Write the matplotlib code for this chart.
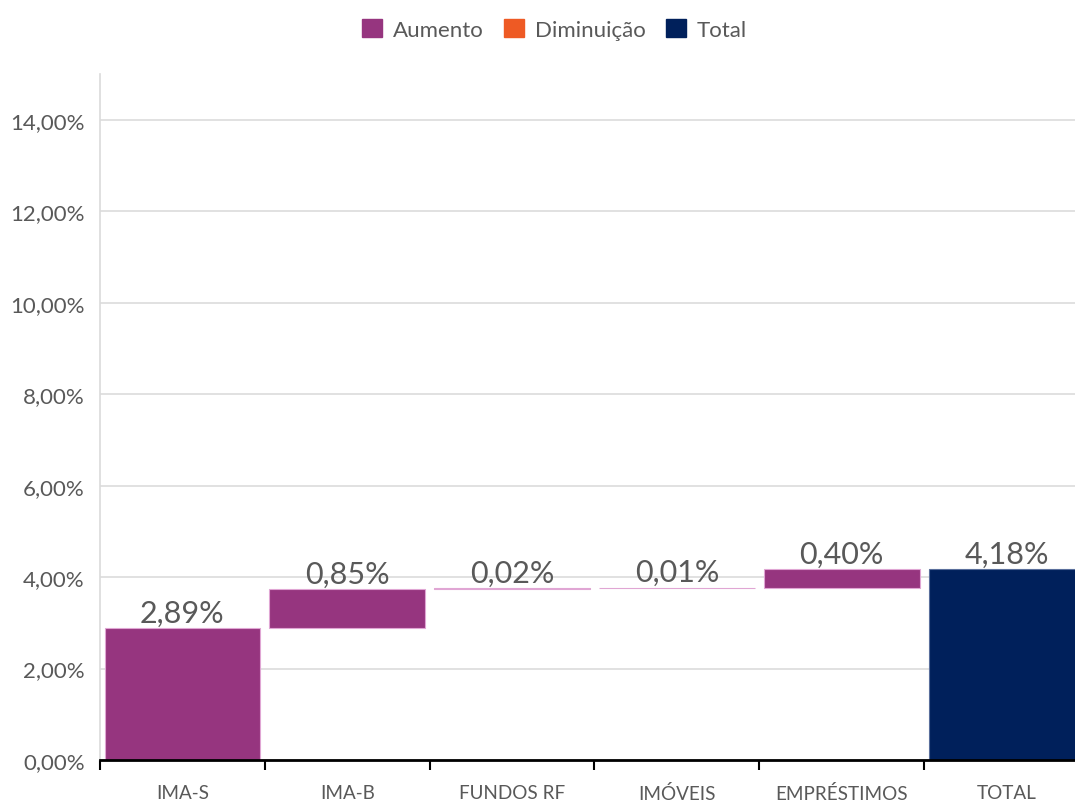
import matplotlib.pyplot as plt
import numpy as np
from matplotlib.patches import Patch
from matplotlib.ticker import FuncFormatter, FixedLocator

plt.rcParams['font.family'] = ['Lato', 'DejaVu Sans']

categories = ['IMA-S', 'IMA-B', 'FUNDOS RF', 'IMÓVEIS', 'EMPRÉSTIMOS', 'TOTAL']
steps = [2.89, 0.85, 0.02, 0.01, 0.40]
total = 4.18
labels = ['2,89%', '0,85%', '0,02%', '0,01%', '0,40%', '4,18%']

C_UP = '#96357f'
C_DOWN = '#ee5a24'
C_TOTAL = '#00205b'
TXT = '#595959'

fig = plt.figure(figsize=(10.75, 8.03), dpi=100)
ax = fig.add_axes([0.093, 0.0523, 0.92, 0.8543])

bottoms = np.concatenate([[0], np.cumsum(steps)[:-1]])
x = np.arange(len(categories))
ax.bar(x[:-1], steps, bottom=bottoms, width=0.945, color=C_UP,
       edgecolor='#e0a6d4', linewidth=0.8, zorder=3)
ax.bar(x[-1], total, width=0.945, color=C_TOTAL, edgecolor='#5a6f9c',
       linewidth=0.8, zorder=3)

tops = list(bottoms + np.array(steps)) + [total]
for xi, top, lab in zip(x, tops, labels):
    ax.annotate(lab, (xi, top), xytext=(0, 1), textcoords='offset points',
                ha='center', va='bottom', fontsize=22, color=TXT, zorder=4)

ax.set_xlim(-0.5, 5.5)
ax.set_ylim(0, 15)
ax.set_yticks(np.arange(0, 15, 2))
ax.yaxis.set_major_formatter(FuncFormatter(lambda v, p: f'{v:.2f}'.replace('.', ',') + '%'))
ax.grid(axis='y', color='#dcdcdc', linewidth=1.2, zorder=0)
ax.tick_params(axis='y', length=0, pad=11, labelsize=16, labelcolor=TXT)

ax.set_xticks(x)
ax.set_xticklabels(categories)
ax.tick_params(axis='x', which='major', length=0, pad=17, labelsize=13.6, labelcolor=TXT)
ax.xaxis.set_minor_locator(FixedLocator(np.arange(-0.5, 5.5, 1)))
ax.tick_params(axis='x', which='minor', length=7, width=1.5, color='black', direction='out')

for s in ['top', 'right']:
    ax.spines[s].set_visible(False)
ax.spines['left'].set_color('#dadada')
ax.spines['left'].set_linewidth(1.2)
ax.spines['bottom'].set_color('black')
ax.spines['bottom'].set_linewidth(2)
ax.spines['bottom'].set_zorder(5)

handles = [Patch(color=C_UP, label='Aumento'),
           Patch(color=C_DOWN, label='Diminuição'),
           Patch(color=C_TOTAL, label='Total')]
leg = fig.legend(handles=handles, loc='upper center', bbox_to_anchor=(0.516, 1.0),
                 ncol=3, frameon=False, fontsize=16, handlelength=0.9, handleheight=0.9,
                 handletextpad=0.5, columnspacing=0.9)
for t in leg.get_texts():
    t.set_color(TXT)

fig.savefig('out.png', dpi=100)
